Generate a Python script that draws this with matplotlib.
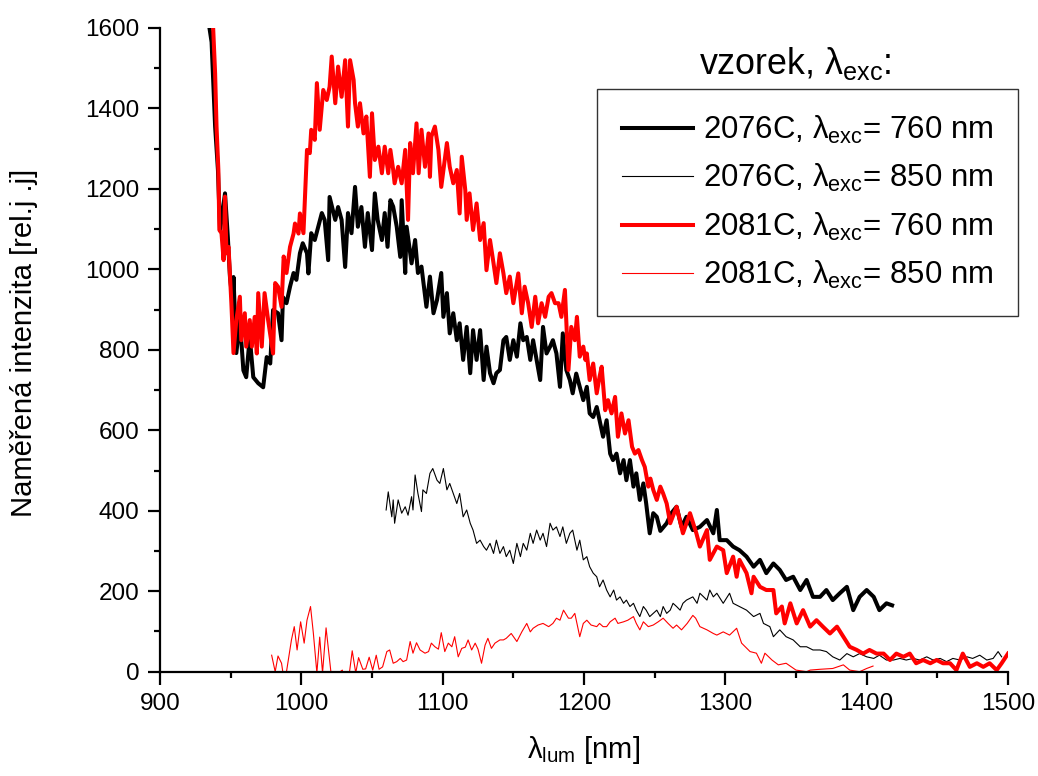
import matplotlib
matplotlib.use("Agg")
import matplotlib.pyplot as plt
from matplotlib.ticker import MultipleLocator

plt.rcParams['font.family'] = ['Liberation Sans', 'DejaVu Sans']
plt.rcParams['mathtext.fontset'] = 'custom'
plt.rcParams['mathtext.rm'] = 'Liberation Sans'
plt.rcParams['mathtext.it'] = 'Liberation Sans:italic'
plt.rcParams['mathtext.bf'] = 'Liberation Sans:bold'

# --- 2076C, excitation 760 nm ---
wl_2076_760 = [935, 936.5, 939, 941, 942.5, 946, 948, 949.5, 951.5, 952, 954, 956.5, 959, 961, 963.5, 966,
               969.5, 973, 975.5, 978, 980, 983.5, 986, 987, 989.5, 992, 994.5, 996.5, 999, 1001, 1004, 1005,
               1007, 1009.5, 1012, 1014.5, 1016.5, 1019, 1020, 1024, 1026, 1028.5, 1031, 1033, 1035.5, 1038,
               1040, 1042.5, 1045, 1047, 1050, 1052, 1054, 1057, 1059, 1061, 1063, 1065, 1067.5, 1070, 1071,
               1073.5, 1074.5, 1078, 1080.5, 1082.5, 1085, 1088.5, 1091, 1093.5, 1096, 1099, 1100.5, 1103,
               1105, 1107.5, 1110, 1112, 1114.5, 1117, 1119.5, 1121.5, 1124, 1126.5, 1129, 1131, 1133.5, 1136,
               1138, 1140.5, 1143, 1145, 1147.5, 1150, 1152.5, 1155, 1157, 1159.5, 1162, 1164, 1166.5, 1169,
               1171, 1173.5, 1176, 1178, 1180.5, 1183, 1185, 1187.5, 1190, 1192, 1194.5, 1197, 1199.5, 1202,
               1204, 1206.5, 1209, 1211, 1213.5, 1216, 1218.5, 1220.5, 1223, 1225.5, 1228, 1230, 1232.5, 1235,
               1237, 1239.5, 1242, 1244, 1246.5, 1249, 1251.5, 1254, 1258.5, 1262, 1265.5, 1269, 1272.5, 1277,
               1282, 1287, 1291.5, 1294, 1296, 1301, 1305.5, 1310, 1315, 1320, 1324.5, 1329, 1334, 1338.5,
               1343, 1348, 1353, 1357.5, 1362, 1367, 1371.5, 1376, 1381, 1386, 1390.5, 1395, 1400, 1405, 1409,
               1414, 1418]
int_2076_760 = [1600, 1565, 1355, 1247, 1097, 1189, 1080, 981, 916, 981, 792, 874, 749, 732, 832, 732,
                717, 707, 782, 766, 899, 891, 824, 931, 916, 957, 991, 974, 1040, 1065, 1040, 990,
                1090, 1073, 1106, 1140, 1123, 1023, 1180, 1123, 1155, 1123, 1006, 1140, 1090, 1205,
                1106, 1155, 1056, 1140, 1048, 1189, 1123, 1073, 1140, 1056, 1172, 1156, 1106, 1031, 1172,
                991, 1106, 1015, 1073, 991, 1007, 907, 982, 891, 924, 991, 882, 941,
                841, 891, 824, 866, 775, 857, 742, 849, 775, 849, 725, 808, 742, 717,
                742, 750, 824, 832, 775, 824, 783, 866, 824, 832, 775, 824, 775, 725,
                857, 791, 808, 824, 791, 708, 841, 750, 725, 692, 741, 708, 675, 708,
                642, 633, 658, 625, 584, 625, 542, 526, 542, 493, 526, 476, 526, 460,
                493, 427, 468, 418, 344, 394, 385, 350, 369, 395, 410, 360, 385, 352,
                360, 377, 344, 402, 327, 327, 311, 302, 286, 261, 278, 245, 269, 253,
                228, 236, 203, 228, 186, 186, 203, 178, 195, 211, 153, 186, 203, 186, 153,
                170, 165]

# --- 2076C, excitation 850 nm ---
wl_2076_850 = [1060, 1061.5, 1064, 1065, 1066, 1068.5, 1071, 1073.5, 1075.5, 1078, 1079, 1080.5, 1082.5,
               1085, 1086, 1088.5, 1091, 1093, 1096, 1098, 1100.5, 1103, 1105, 1107.5, 1110, 1112, 1114.5,
               1117, 1119.5, 1121.5, 1124, 1126.5, 1129, 1131, 1133.5, 1136, 1138, 1140.5, 1143, 1145,
               1147.5, 1150, 1152.5, 1155, 1157, 1159.5, 1162, 1164, 1166.5, 1169, 1171, 1173.5, 1176, 1178,
               1180.5, 1183, 1185, 1187.5, 1190, 1192, 1195, 1197, 1199.5, 1202, 1204, 1206.5, 1209, 1211,
               1213.5, 1216, 1218.5, 1221, 1223, 1225.5, 1228, 1230, 1232.5, 1235, 1237, 1239.5, 1242, 1244,
               1246.5, 1249, 1251.5, 1254, 1256, 1258.5, 1261, 1263, 1265.5, 1268, 1270, 1272.5, 1277, 1280,
               1282, 1287, 1289, 1291.5, 1294, 1298.5, 1303, 1305.5, 1310, 1315, 1320, 1324.5, 1327, 1331.5,
               1334, 1338.5, 1343, 1348, 1353, 1357.5, 1362, 1367, 1371.5, 1376, 1381, 1386, 1390.5, 1395,
               1400, 1405, 1409, 1414, 1419, 1423.5, 1428, 1433, 1437.5, 1442.5, 1447, 1452, 1456.5, 1461,
               1466, 1471, 1475, 1480, 1485, 1489.5, 1493, 1495.5]
int_2076_850 = [402, 447, 385, 427, 369, 427, 394, 410, 389, 435, 402, 489, 443,
                398, 452, 443, 493, 505, 476, 468, 505, 452, 468, 443, 418, 443, 385,
                402, 369, 352, 319, 327, 311, 302, 319, 294, 327, 294, 311, 286,
                302, 269, 319, 286, 319, 302, 344, 319, 352, 327, 344, 311, 369, 352,
                360, 336, 360, 319, 344, 352, 302, 327, 278, 286, 261, 245, 236, 211,
                228, 203, 186, 203, 178, 186, 170, 178, 162, 170, 153, 137, 162, 153,
                137, 145, 153, 137, 162, 145, 153, 170, 162, 153, 170, 178, 186, 170,
                195, 178, 203, 186, 195, 170, 195, 170, 162, 153, 137, 145, 120, 112,
                87, 104, 87, 79, 62, 62, 54, 54, 50, 37, 29, 45, 37, 45,
                37, 33, 41, 29, 29, 33, 29, 33, 29, 37, 29, 33, 25, 33,
                29, 37, 33, 41, 29, 33, 50, 37]

# --- 2081C, excitation 760 nm ---
wl_2081_760 = [937, 939, 940, 941.3, 942, 943.5, 945, 946, 947, 948.5, 950.5, 952, 954, 956.5, 957.5, 960,
               961, 963.5, 965, 967, 968.5, 969.5, 972, 974, 976.5, 980, 981.5, 983.5, 986, 987.5, 989.5,
               992, 994.5, 995.5, 998, 999, 1001.5, 1004, 1006, 1007, 1009.5, 1011, 1013, 1015.5, 1018,
               1020, 1021.5, 1024, 1026, 1028.5, 1031, 1033, 1034.5, 1037, 1038, 1040, 1041.5, 1044, 1046,
               1048.5, 1050, 1052, 1054.5, 1057, 1059, 1061.5, 1063, 1065, 1066, 1068.5, 1071, 1073.5,
               1075.5, 1077, 1079, 1081.5, 1083, 1085, 1087.5, 1090, 1091, 1092, 1094.5, 1097, 1099, 1101.5,
               1103, 1105, 1107.5, 1110, 1112, 1113.5, 1116, 1117, 1119, 1121.5, 1124, 1126.5, 1129, 1131,
               1133.5, 1136, 1138, 1140.5, 1143, 1145, 1147.5, 1150, 1153.5, 1156, 1158, 1160.5, 1163,
               1165.5, 1167.5, 1170, 1172.5, 1175, 1177, 1179.5, 1182, 1184, 1186.5, 1189, 1191, 1193.5,
               1195, 1197, 1199.5, 1201, 1202, 1204, 1206.5, 1209, 1211, 1212.5, 1215, 1217, 1219.5, 1222,
               1224, 1226.5, 1229, 1231.5, 1234, 1236, 1238.5, 1241, 1243, 1245.5, 1247, 1249, 1251.5, 1254,
               1256, 1258.5, 1261, 1265.5, 1270, 1275, 1279.5, 1282, 1287, 1289, 1294, 1298.5, 1301, 1305.5,
               1308, 1310, 1315, 1318.5, 1320, 1324.5, 1329, 1334, 1336, 1340, 1342, 1346, 1350.5, 1355,
               1360, 1364.5, 1369, 1374, 1379, 1383.5, 1388, 1393, 1397.5, 1402, 1407, 1412, 1416.5, 1421,
               1426, 1430.5, 1435, 1440, 1445, 1449.5, 1454, 1459, 1463.5, 1468, 1473, 1478, 1482.5, 1487,
               1492, 1495.5, 1500]
int_2081_760 = [1650, 1487, 1355, 1247, 1098, 1090, 1023, 1181, 1040, 1056, 916, 792, 874, 932, 824, 891,
                808, 874, 808, 882, 791, 941, 808, 941, 874, 791, 966, 957, 907, 1032, 991,
                1056, 1089, 1114, 1089, 1139, 1090, 1297, 1289, 1347, 1322, 1463, 1347, 1446, 1421,
                1454, 1529, 1413, 1504, 1429, 1520, 1355, 1520, 1471, 1413, 1355, 1413, 1338, 1380,
                1230, 1388, 1272, 1305, 1239, 1305, 1239, 1297, 1247, 1214, 1255, 1214, 1297,
                1123, 1314, 1239, 1363, 1239, 1347, 1255, 1338, 1230, 1330, 1355, 1297, 1205, 1272,
                1314, 1255, 1214, 1247, 1139, 1280, 1197, 1123, 1189, 1098, 1164, 1073, 1115, 998,
                1073, 1015, 966, 1040, 990, 941, 982, 916, 990, 891, 957, 916, 857,
                932, 866, 916, 882, 932, 941, 916, 916, 882, 949, 750, 857, 824,
                882, 783, 808, 775, 791, 725, 766, 692, 733, 758, 650, 675, 642, 683,
                584, 642, 592, 625, 559, 542, 551, 526, 509, 460, 480, 452, 427, 460,
                443, 418, 369, 410, 344, 394, 344, 311, 352, 278, 311, 302, 245, 286,
                236, 278, 245, 195, 236, 211, 203, 203, 145, 162, 120, 170, 120, 153,
                112, 128, 112, 95, 112, 87, 62, 54, 45, 54, 45, 45, 29, 45,
                37, 45, 21, 29, 21, 29, 21, 21, 4, 45, 12, 21, 12, 21,
                4, 21, 45]

# --- 2081C, excitation 850 nm ---
wl_2081_850 = [979, 981.5, 983.5, 986, 987, 989.5, 993, 995, 997, 999.5, 1002, 1004, 1006.5, 1008.5, 1011,
               1013, 1015, 1017.5, 1021, 1023, 1029, 1030, 1034, 1036, 1038.5, 1040.5, 1043.5, 1045.5, 1048,
               1050.5, 1053, 1055, 1057.5, 1060.5, 1062.5, 1065, 1067.5, 1070, 1072, 1074.5, 1077, 1079,
               1081.5, 1084, 1087.5, 1090, 1092, 1094.5, 1097, 1099, 1101.5, 1104, 1106.5, 1108.5, 1111,
               1113.5, 1116, 1118, 1120.5, 1123, 1125, 1127.5, 1130, 1132, 1134.5, 1137, 1140.5, 1143, 1145,
               1148.5, 1152.5, 1156, 1159.5, 1162, 1164, 1167.5, 1171, 1175, 1178, 1180.5, 1183, 1185.5, 1189,
               1191, 1193.5, 1197, 1199.5, 1202, 1205, 1209, 1211, 1213.5, 1216, 1218.5, 1222, 1224, 1228,
               1231, 1235, 1237, 1239.5, 1242, 1245.5, 1249, 1252.5, 1256, 1259.5, 1263, 1265.5, 1269, 1273,
               1277, 1279, 1282, 1287, 1291.5, 1294, 1298.5, 1303, 1308, 1311.5, 1317.5, 1322, 1325.5, 1328,
               1333, 1337.5, 1343, 1350, 1357.5, 1360, 1367, 1376, 1383.5, 1388, 1395, 1400, 1404.5]
int_2081_850 = [41, 0, 39, 21, -3, 0, 79, 112, 54, 124, 71, 128, 162, 96, -3,
                86, -3, 109, -3, -12, 4, -12, -3, 52, -3, 35, 6, 7, 36,
                4, 41, 6, 12, 50, 54, 21, 25, 33, 25, 29, 75, 46,
                72, 54, 46, 50, 71, 62, 56, 97, 50, 71, 62, 87, 37,
                58, 61, 79, 54, 71, 56, 21, 66, 83, 58, 71, 79, 79, 83,
                95, 75, 99, 120, 99, 108, 116, 120, 112, 120, 133, 128, 153, 133,
                133, 145, 87, 120, 128, 116, 112, 120, 112, 112, 124, 133, 120, 124,
                128, 137, 120, 104, 124, 112, 116, 124, 133, 120, 108, 116, 104, 120,
                140, 133, 112, 104, 95, 91, 99, 91, 108, 71, 50, 46, 21, 46,
                29, 17, 21, 4, 0, 4, 6, 8, 17, 4, 0, 8, 14]

labels = [r'2076C, $\mathrm{\lambda_{exc}}$= 760 nm',
          r'2076C, $\mathrm{\lambda_{exc}}$= 850 nm',
          r'2081C, $\mathrm{\lambda_{exc}}$= 760 nm',
          r'2081C, $\mathrm{\lambda_{exc}}$= 850 nm']

fig = plt.figure(figsize=(10.38, 7.76), dpi=100)
ax = fig.add_axes([160 / 1038, 1 - 671.7 / 776, 848 / 1038, 643.7 / 776])

ax.plot(wl_2076_760, int_2076_760, color='black', lw=2.9, label=labels[0], solid_joinstyle='round')
ax.plot(wl_2076_850, int_2076_850, color='black', lw=0.8, label=labels[1])
ax.plot(wl_2081_760, int_2081_760, color='#ff0000', lw=2.9, label=labels[2], solid_joinstyle='round')
ax.plot(wl_2081_850, int_2081_850, color='#ff0000', lw=0.8, label=labels[3])

ax.set_xlim(900, 1500)
ax.set_ylim(0, 1600)
ax.xaxis.set_major_locator(MultipleLocator(100))
ax.xaxis.set_minor_locator(MultipleLocator(50))
ax.yaxis.set_major_locator(MultipleLocator(200))
ax.yaxis.set_minor_locator(MultipleLocator(100))

for side in ('top', 'right'):
    ax.spines[side].set_visible(False)
for side in ('left', 'bottom'):
    ax.spines[side].set_linewidth(1.6)

ax.tick_params(which='major', direction='out', length=9, width=1.6, labelsize=17.5, pad=6)
ax.tick_params(which='minor', direction='out', length=4.5, width=1.6)

ax.set_xlabel(r'$\mathrm{\lambda_{lum}}$ [nm]', fontsize=21, labelpad=14)
ax.set_ylabel('Naměřená intenzita [rel.j .j]', fontsize=21.1)
ax.yaxis.set_label_coords(-0.144, 0.511)

leg = ax.legend(loc='upper left', bbox_to_anchor=(597 / 1038, 1 - 89 / 776),
                bbox_transform=fig.transFigure, fontsize=22.4, frameon=True, fancybox=False,
                edgecolor='black', handlelength=2.3, handletextpad=0.3, labelspacing=0.52,
                borderpad=0.8, borderaxespad=0)
leg.get_frame().set_linewidth(1.0)
fig.text(795 / 1038, 1 - 64 / 776, r'vzorek, $\mathrm{\lambda_{exc}}$:', fontsize=25.8,
         ha='center', va='center')

fig.savefig('out.png', dpi=100)
